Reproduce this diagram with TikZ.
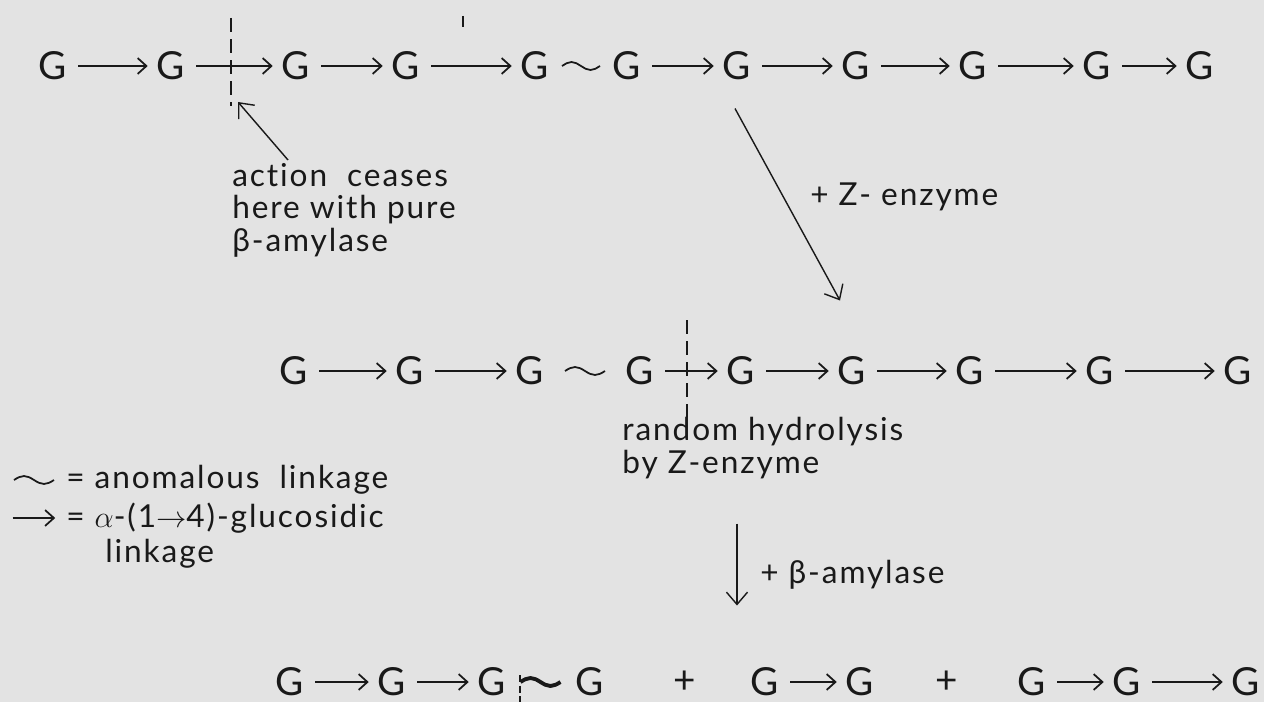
\documentclass[tikz,border=0pt]{standalone}
\usepackage{fontspec}
\setmainfont{Lato}[LetterSpace=6, Ligatures=NoCommon]
\usetikzlibrary{arrows.meta,calc}
\definecolor{paper}{gray}{0.89}
\definecolor{ink}{gray}{0.1}

\begin{document}
\begin{tikzpicture}[x=0.02cm, y=-0.02cm,
    glu/.style={inner sep=0pt, text=ink, font=\fontsize{22}{24}\selectfont},
    note/.style={inner sep=0pt, text=ink, align=left, font=\fontsize{18}{18.5}\selectfont},
    link/.style={draw=ink, line width=1pt, -{Straight Barb[length=5pt,width=9pt]}, shorten <=6pt, shorten >=5pt},
    anomal/.style={draw=ink, line width=1pt},
    cut/.style={draw=ink, line width=0.8pt, dash pattern=on 8pt off 4pt},
    stepline/.style={draw=ink, line width=0.8pt, -{Straight Barb[length=7pt,width=12pt]}}]
        % Paper
        \fill[paper] (0,0) rectangle (1264,702);

        % First chain
        \node[glu] (a1) at (53,66) {G};
        \node[glu] (a2) at (171,66) {G};
        \node[glu] (a3) at (296,66) {G};
        \node[glu] (a4) at (406,66) {G};
        \node[glu] (a5) at (535,66) {G};
        \node[glu] (a6) at (627,66) {G};
        \node[glu] (a7) at (737,66) {G};
        \node[glu] (a8) at (856,66) {G};
        \node[glu] (a9) at (973,66) {G};
        \node[glu] (a10) at (1097,66) {G};
        \node[glu] (a11) at (1200,66) {G};

        \draw[link] (a1) -- (a2);
        \draw[link] (a2) -- (a3);
        \draw[link] (a3) -- (a4);
        \draw[link] (a4) -- (a5);
        \draw[anomal] ($(a5.east)!0.5!(a6.west)+(-19,0)$) sin ++(9.5,-4) cos ++(9.5,4) sin ++(9.5,4) cos ++(9.5,-4);
        \draw[link] (a6) -- (a7);
        \draw[link] (a7) -- (a8);
        \draw[link] (a8) -- (a9);
        \draw[link] (a9) -- (a10);
        \draw[link] (a10) -- (a11);

        % Where beta-amylase stops
        \coordinate (cut1top) at (231,18);
        \coordinate (cut1bot) at (231,106);
        \coordinate (cut1hit) at (238,102);
        \draw[cut] (cut1top) -- (cut1bot);
        \draw[anomal] (463,16) -- (463,27);
        \node[note, anchor=north west] (ceases) at (232,163) {action\ \ ceases\\here with pure\\β-amylase};
        \draw[stepline] ($(ceases.north west)+(56,-3)$) -- (cut1hit);

        % Z-enzyme step
        \draw[stepline] ($(a7.south)+(-2,28)$) -- ($(a7.south)+(103,220)$);
        \node[note, anchor=west] (zenz) at (810,197) {+ Z- enzyme};

        % Second chain
        \node[glu] (b1) at (294,371) {G};
        \node[glu] (b2) at (410,371) {G};
        \node[glu] (b3) at (530,371) {G};
        \node[glu] (b4) at (640,371) {G};
        \node[glu] (b5) at (741,371) {G};
        \node[glu] (b6) at (852,371) {G};
        \node[glu] (b7) at (970,371) {G};
        \node[glu] (b8) at (1100,371) {G};
        \node[glu] (b9) at (1238,371) {G};

        \draw[link] (b1) -- (b2);
        \draw[link] (b2) -- (b3);
        \draw[anomal] ($(b3.east)!0.5!(b4.west)+(-20,0)$) sin ++(10,-4) cos ++(10,4) sin ++(10,4) cos ++(10,-4);
        \draw[link] (b4) -- (b5);
        \draw[link] (b5) -- (b6);
        \draw[link] (b6) -- (b7);
        \draw[link] (b7) -- (b8);
        \draw[link] (b8) -- (b9);

        \coordinate (cut2top) at (687,320);
        \coordinate (cut2bot) at (687,417);
        \draw[cut] (cut2top) -- (cut2bot);
        \node[note, anchor=north west] (hydro) at (622,417) {random hydrolysis\\by Z-enzyme};

        % beta-amylase step
        \draw[stepline] ($(b5.south)+(-4,138)$) -- ($(b5.south)+(-4,220)$);
        \node[note, anchor=west] (bamyl) at (760,575) {+ β-amylase};

        % Legend
        \node[note, anchor=west] (anom) at (66,480) {= anomalous\ \ linkage};
        \draw[anomal] ($(anom.west)+(-52,0)$) sin ++(10,-4) cos ++(10,4) sin ++(10,4) cos ++(10,-4);
        \node[note, anchor=west] (gluc) at (66,518) {= \(\alpha\)-(1\(\to\)4)-glucosidic};
        \draw[link] ($(gluc.west)+(-64,0)$) -- ($(gluc.west)+(-2,0)$);
        \node[note, anchor=west] (linkage) at (105,554) {linkage};

        % Products
        \node[glu] (c1) at (290,682) {G};
        \node[glu] (c2) at (392,682) {G};
        \node[glu] (c3) at (492,682) {G};
        \node[glu] (c4) at (590,682) {G};
        \node[glu] (plus1) at (685,682) {+};
        \node[glu] (c5) at (765,682) {G};
        \node[glu] (c6) at (860,682) {G};
        \node[glu] (plus2) at (947,682) {+};
        \node[glu] (c7) at (1032,682) {G};
        \node[glu] (c8) at (1127,682) {G};
        \node[glu] (c9) at (1246,682) {G};

        \draw[link] (c1) -- (c2);
        \draw[link] (c2) -- (c3);
        \draw[anomal, line width=2.2pt] ($(c3.east)+(14,0)$) sin ++(10,-4) cos ++(10,4) sin ++(10,4) cos ++(10,-4);
        \draw[cut, line width=0.6pt, dash pattern=on 4pt off 2pt] (520,675) -- (520,702);
        \draw[link] (c5) -- (c6);
        \draw[link] (c7) -- (c8);
        \draw[link] (c8) -- (c9);
\end{tikzpicture}
\end{document}
